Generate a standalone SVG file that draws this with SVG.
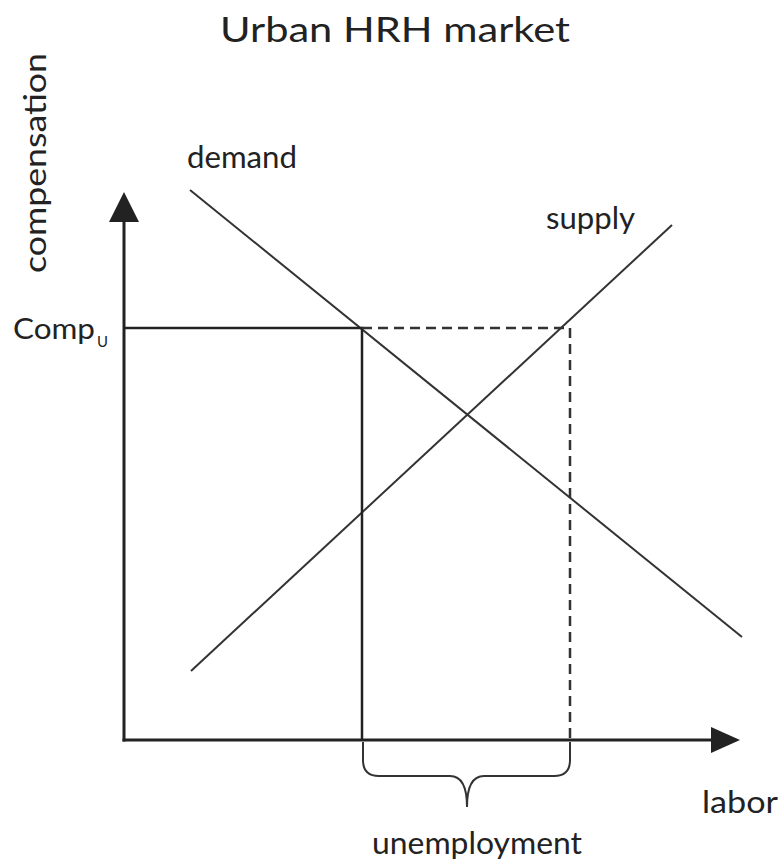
<svg xmlns="http://www.w3.org/2000/svg" width="783" height="862" viewBox="0 0 783 862">
  <style>
    .lbl { font-family: Lato, "Open Sans", "Liberation Sans", sans-serif; fill: #222; }
    .curve { stroke: #333; stroke-width: 2; fill: none; }
    .axis { stroke: #222; stroke-width: 3; fill: none; }
    .guide { stroke: #222; stroke-width: 2.5; fill: none; }
    .dash { stroke: #333; stroke-width: 2.5; fill: none; stroke-dasharray: 10 6; }
    .head { fill: #222; }
  </style>
  <rect width="783" height="862" fill="#fff"/>

  <g id="title">
    <text class="lbl" x="220" y="42" font-size="35" textLength="350" lengthAdjust="spacingAndGlyphs">Urban HRH market</text>
  </g>

  <g id="axes">
    <line class="axis" x1="124" y1="215" x2="124" y2="741.5"/>
    <line class="axis" x1="122.5" y1="740" x2="715" y2="740"/>
    <polygon class="head" points="124,192 139,222 109,222"/>
    <polygon class="head" points="740,740 711,727 711,753"/>
  </g>

  <g id="curves">
    <line id="demand-line" class="curve" x1="190" y1="190" x2="742" y2="637"/>
    <line id="supply-line" class="curve" x1="191" y1="671" x2="672" y2="225"/>
  </g>

  <g id="guides">
    <polyline class="guide" points="124,328 362,328 362,741"/>
    <polyline class="dash" points="362,328 570,328 570,740"/>
  </g>

  <g id="brace">
    <path class="curve" d="M363,742 V760 Q363,776 379,776 H450 Q467,776 467,807 Q467,776 484,776 H554 Q570,776 570,760 V742"/>
  </g>

  <g id="labels">
    <text class="lbl" x="187" y="168" font-size="31" textLength="110" lengthAdjust="spacingAndGlyphs">demand</text>
    <text class="lbl" x="546" y="229" font-size="31" textLength="89" lengthAdjust="spacingAndGlyphs">supply</text>
    <text class="lbl" x="13" y="339" font-size="29" textLength="82" lengthAdjust="spacingAndGlyphs">Comp</text>
    <text class="lbl" x="97" y="347" font-size="15" textLength="11" lengthAdjust="spacingAndGlyphs">U</text>
    <text class="lbl" transform="translate(46,273) rotate(-90)" font-size="31" textLength="220" lengthAdjust="spacingAndGlyphs">compensation</text>
    <text class="lbl" x="702" y="813" font-size="31" textLength="76" lengthAdjust="spacingAndGlyphs">labor</text>
    <text class="lbl" x="372" y="854" font-size="31" textLength="210" lengthAdjust="spacingAndGlyphs">unemployment</text>
  </g>
</svg>
